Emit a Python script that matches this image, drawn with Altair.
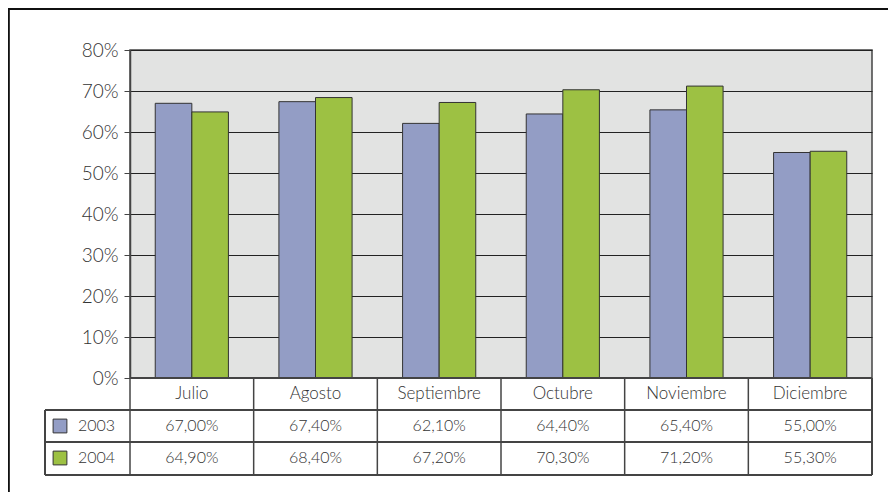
import altair as alt
import pandas as pd

months = ["Julio", "Agosto", "Septiembre", "Octubre", "Noviembre", "Diciembre"]
years = ["2003", "2004"]
v2003 = [67.0, 67.4, 62.1, 64.4, 65.4, 55.0]
v2004 = [64.9, 68.4, 67.2, 70.3, 71.2, 55.3]
colors = ["#939dc5", "#9dc143"]

rows = []
for yr, vals in zip(years, [v2003, v2004]):
    for m, v in zip(months, vals):
        rows.append({"month": m, "year": yr, "value": v / 100.0,
                     "label": f"{v:.2f}".replace(".", ",") + "%"})
df = pd.DataFrame(rows)
mdf = pd.DataFrame({"month": months})

FONT = "Lato"
FW = 300
TXT = "#333333"
W, H = 742, 328

xenc = alt.X("month:N", sort=months, scale=alt.Scale(paddingInner=0, paddingOuter=0), axis=None)

bars = alt.Chart(df).mark_bar(stroke="#333333", strokeWidth=1).encode(
    x=xenc,
    xOffset=alt.XOffset("year:N", sort=years, scale=alt.Scale(paddingInner=0, paddingOuter=0.69)),
    y=alt.Y("value:Q", scale=alt.Scale(domain=[0, 0.8], nice=False),
            axis=alt.Axis(values=[0, 0.1, 0.2, 0.3, 0.4, 0.5, 0.6, 0.7, 0.8], format=".0%",
                          title=None, grid=True, gridColor="#222222", gridWidth=1, gridOpacity=1,
                          domainColor="#444444", domainWidth=1.5, tickColor="#444444", tickSize=6,
                          labelFont=FONT, labelFontWeight=FW, labelFontSize=19, labelColor=TXT,
                          labelPadding=6)),
    color=alt.Color("year:N", scale=alt.Scale(domain=years, range=colors), legend=None),
)

layers = [bars]

# table vertical lines at band boundaries
layers.append(alt.Chart(mdf).mark_rule(color="#444444", strokeWidth=1.5).encode(
    x=alt.X("month:N", sort=months, bandPosition=0, axis=None),
    y=alt.value(H), y2=alt.value(425)))
layers.append(alt.Chart(mdf).mark_rule(color="#444444", strokeWidth=1.5).encode(
    x=alt.value(W), y=alt.value(H), y2=alt.value(425)))
layers.append(alt.Chart(mdf).mark_rule(color="#444444", strokeWidth=1.5).encode(
    x=alt.value(-85), y=alt.value(360), y2=alt.value(425)))
for yy in [360, 392, 425]:
    layers.append(alt.Chart(mdf).mark_rule(color="#444444", strokeWidth=1.5).encode(
        x=alt.value(-85), x2=alt.value(W), y=alt.value(yy)))
layers.append(alt.Chart(mdf).mark_rule(color="#444444", strokeWidth=1.5).encode(
    x=alt.value(0), x2=alt.value(W), y=alt.value(H)))

# outer frame (top and left)
layers.append(alt.Chart(mdf).mark_rule(color="#111111", strokeWidth=1.5).encode(
    x=alt.value(-122), x2=alt.value(770), y=alt.value(-41)))
layers.append(alt.Chart(mdf).mark_rule(color="#111111", strokeWidth=1.5).encode(
    x=alt.value(-121.5), y=alt.value(-41), y2=alt.value(460)))

# header row: month names
layers.append(alt.Chart(mdf).mark_text(font=FONT, fontWeight=FW, fontSize=17, color=TXT,
                                       baseline="middle").encode(
    x=alt.X("month:N", sort=months, bandPosition=0.5, axis=None),
    y=alt.value(344), text="month:N"))

# value rows + legend
for yr, yy, col in zip(years, [376, 408], colors):
    layers.append(alt.Chart(df).transform_filter(alt.datum.year == yr).mark_text(
        font=FONT, fontWeight=FW, fontSize=16, color=TXT, baseline="middle").encode(
        x=alt.X("month:N", sort=months, bandPosition=0.5, axis=None),
        y=alt.value(yy), text="label:N"))
    layers.append(alt.Chart(pd.DataFrame({"year": [yr]})).mark_square(
        size=190, color=col, opacity=1, stroke="#333333", strokeWidth=1).encode(
        x=alt.value(-70), y=alt.value(yy)))
    layers.append(alt.Chart(pd.DataFrame({"year": [yr]})).mark_text(
        font=FONT, fontWeight=FW, fontSize=16, color=TXT, align="left", baseline="middle").encode(
        x=alt.value(-52), y=alt.value(yy), text="year:N"))

chart = alt.layer(*layers).properties(
    width=W, height=H,
    autosize=alt.AutoSizeParams(type="none"),
    padding={"left": 122, "top": 42, "right": 16, "bottom": 114},
    background="white",
).configure_view(fill="#e2e3e2", stroke="#444444", strokeWidth=1.5)

chart.save("out.html", embed_options={"renderer": "svg", "actions": False})
